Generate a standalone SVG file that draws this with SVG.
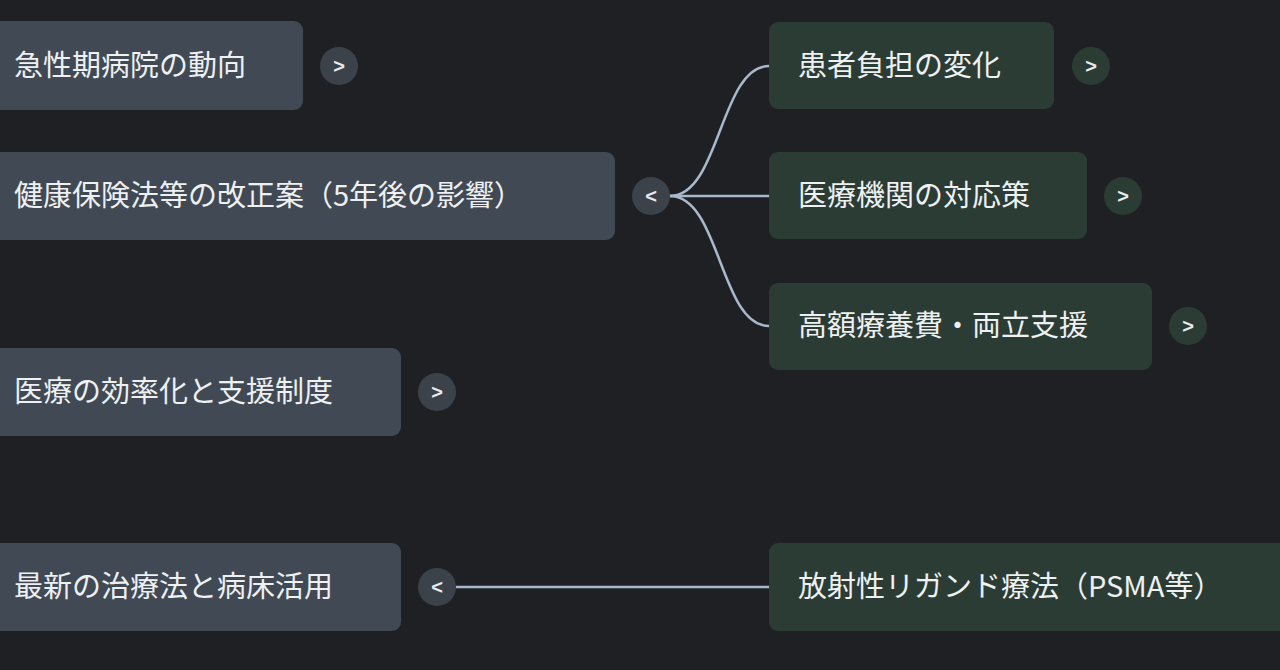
<svg xmlns="http://www.w3.org/2000/svg" width="1280" height="670" viewBox="0 0 1280 670">
<style>
.l{fill:#414a54}.r{fill:#2b3c35}
.t{font-family:"Noto Sans CJK JP","Noto Sans",sans-serif;font-size:29px;fill:#eef0f2}
.tg{fill:#3c4249}.tgr{fill:#2b3c35}
.a{font-family:"Liberation Sans",sans-serif;font-size:20px;fill:#e8eaec;text-anchor:middle;font-weight:bold}
.c{fill:none;stroke:#a9b8cc;stroke-width:2.5}
</style>
<rect width="1280" height="670" fill="#1e2024"/>
<g id="connectors">
<path class="c" d="M670,196 C720,196 720,66 769,66"/>
<path class="c" d="M670,196 L769,196"/>
<path class="c" d="M670,196 C720,196 720,326 769,326"/>
<path class="c" d="M456,587 L769,587"/>
</g>
<g id="n1"><rect class="l" x="-12" y="21" width="315" height="89" rx="9"/><text class="t" x="14" y="76">急性期病院の動向</text><circle class="tg" cx="339" cy="66" r="19"/><text class="a" x="339" y="73">&gt;</text></g>
<g id="n2"><rect class="l" x="-12" y="152" width="627" height="88" rx="9"/><text class="t" x="14" y="206">健康保険法等の改正案（5年後の影響）</text><circle class="tg" cx="651" cy="196" r="19"/><text class="a" x="651" y="203">&lt;</text></g>
<g id="n3"><rect class="l" x="-12" y="348" width="413" height="88" rx="9"/><text class="t" x="14" y="402">医療の効率化と支援制度</text><circle class="tg" cx="437" cy="392" r="19"/><text class="a" x="437" y="399">&gt;</text></g>
<g id="n4"><rect class="l" x="-12" y="543" width="413" height="88" rx="9"/><text class="t" x="14" y="597">最新の治療法と病床活用</text><circle class="tg" cx="437" cy="587" r="19"/><text class="a" x="437" y="594">&lt;</text></g>
<g id="r1"><rect class="r" x="769" y="22" width="285" height="87" rx="9"/><text class="t" x="798" y="76">患者負担の変化</text><circle class="tgr" cx="1091" cy="66" r="19"/><text class="a" x="1091" y="73">&gt;</text></g>
<g id="r2"><rect class="r" x="769" y="152" width="318" height="87" rx="9"/><text class="t" x="798" y="206">医療機関の対応策</text><circle class="tgr" cx="1123" cy="196" r="19"/><text class="a" x="1123" y="203">&gt;</text></g>
<g id="r3"><rect class="r" x="769" y="283" width="383" height="87" rx="9"/><text class="t" x="798" y="336">高額療養費・両立支援</text><circle class="tgr" cx="1188" cy="326" r="19"/><text class="a" x="1188" y="333">&gt;</text></g>
<g id="r4"><rect class="r" x="769" y="543" width="530" height="88" rx="9"/><text class="t" x="798" y="597">放射性リガンド療法（PSMA等）</text></g>
</svg>
